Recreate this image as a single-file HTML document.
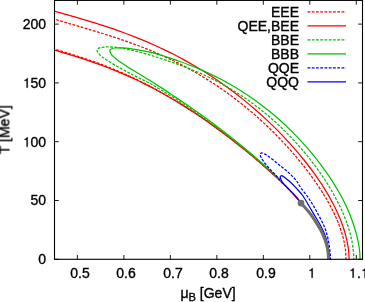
<!DOCTYPE html>
<html><head><meta charset="utf-8"><title>plot</title>
<style>
html,body{margin:0;padding:0;background:#fff}
body{width:365px;height:302px;position:relative;overflow:hidden;font-family:"Liberation Sans",sans-serif;color:#000}
.t{-webkit-text-stroke:0.35px #000;will-change:transform;position:absolute;white-space:nowrap;line-height:1;font-family:"Liberation Sans",sans-serif;color:#000}
</style></head><body>
<svg width="365" height="302" viewBox="0 0 365 302" style="position:absolute;left:0;top:0">
<defs><clipPath id="c"><rect x="54.50" y="0.00" width="308.00" height="259.30"/></clipPath></defs>
<g clip-path="url(#c)">
<path d="M44.00,15.90 C45.67,16.42 50.67,18.00 54.00,19.02 C57.33,20.04 60.67,21.03 64.00,22.02 C67.33,23.02 70.67,23.99 74.00,24.97 C77.33,25.95 80.67,26.93 84.00,27.91 C87.33,28.90 90.67,29.88 94.00,30.89 C97.33,31.90 100.67,32.91 104.00,33.95 C107.33,35.00 110.67,36.05 114.00,37.14 C117.33,38.24 120.67,39.35 124.00,40.50 C127.33,41.66 130.67,42.84 134.00,44.07 C137.33,45.29 140.67,46.56 144.00,47.87 C147.33,49.19 150.67,50.54 154.00,51.95 C157.33,53.36 160.67,54.82 164.00,56.34 C167.33,57.86 170.67,59.42 174.00,61.06 C177.33,62.69 180.67,64.38 184.00,66.14 C187.33,67.90 190.67,69.72 194.00,71.62 C197.33,73.51 200.67,75.47 204.00,77.51 C207.33,79.54 210.67,81.65 214.00,83.84 C217.33,86.03 220.67,88.29 224.00,90.64 C227.33,92.99 230.67,95.42 234.00,97.94 C237.33,100.46 240.67,103.06 244.00,105.76 C247.33,108.46 250.67,111.25 254.00,114.14 C257.33,117.04 260.67,120.03 264.00,123.13 C267.33,126.23 270.67,129.43 274.00,132.76 C277.33,136.10 280.67,139.53 284.00,143.12 C287.33,146.71 290.67,150.41 294.00,154.29 C297.33,158.18 300.67,162.18 304.00,166.44 C307.33,170.69 310.67,175.06 314.00,179.82 C317.33,184.57 321.52,191.04 324.00,194.96 C326.48,198.87 327.36,200.58 328.87,203.30 C330.38,206.02 331.75,208.63 333.07,211.30 C334.38,213.97 335.62,216.63 336.76,219.30 C337.90,221.97 338.96,224.63 339.92,227.30 C340.87,229.97 341.75,232.63 342.50,235.30 C343.24,237.97 343.89,240.63 344.41,243.30 C344.92,245.97 345.33,248.63 345.60,251.30 C345.86,253.97 345.94,257.80 346.01,259.30 C346.07,260.80 346.01,260.13 346.01,260.30" fill="none" stroke="#ff0000" stroke-width="1.25" stroke-dasharray="2.8 1.45" />
<path d="M44.00,46.21 C45.67,46.69 50.67,48.10 54.00,49.07 C57.33,50.03 60.67,51.01 64.00,52.01 C67.33,53.01 70.67,54.02 74.00,55.06 C77.33,56.10 80.67,57.17 84.00,58.27 C87.33,59.37 90.67,60.50 94.00,61.68 C97.33,62.87 100.67,64.09 104.00,65.37 C107.33,66.65 110.67,67.99 114.00,69.36 C117.33,70.74 120.67,72.15 124.00,73.62 C127.33,75.09 130.67,76.61 134.00,78.19 C137.33,79.77 140.67,81.40 144.00,83.08 C147.33,84.76 150.67,86.50 154.00,88.30 C157.33,90.09 160.67,91.95 164.00,93.84 C167.33,95.74 170.67,97.70 174.00,99.69 C177.33,101.68 180.67,103.72 184.00,105.81 C187.33,107.90 190.67,110.05 194.00,112.25 C197.33,114.45 200.67,116.70 204.00,119.01 C207.33,121.31 210.67,123.66 214.00,126.07 C217.33,128.47 220.67,130.93 224.00,133.43 C227.33,135.94 230.67,138.49 234.00,141.09 C237.33,143.70 240.67,146.35 244.00,149.05 C247.33,151.76 250.67,154.51 254.00,157.32 C257.33,160.13 260.67,162.99 264.00,165.92 C267.33,168.85 270.67,171.83 274.00,174.91 C277.33,177.98 279.50,179.83 284.00,184.38 C288.50,188.92 298.17,199.21 301.00,202.18" fill="none" stroke="#ff0000" stroke-width="1.25" stroke-dasharray="2.8 1.45" />
<path d="M44.00,8.36 C45.67,8.82 50.67,10.19 54.00,11.11 C57.33,12.03 60.67,12.95 64.00,13.88 C67.33,14.81 70.67,15.74 74.00,16.70 C77.33,17.66 80.67,18.62 84.00,19.61 C87.33,20.60 90.67,21.61 94.00,22.64 C97.33,23.68 100.67,24.74 104.00,25.83 C107.33,26.92 110.67,28.04 114.00,29.19 C117.33,30.35 120.67,31.53 124.00,32.76 C127.33,33.99 130.67,35.25 134.00,36.56 C137.33,37.87 140.67,39.22 144.00,40.62 C147.33,42.02 150.67,43.46 154.00,44.95 C157.33,46.45 160.67,47.99 164.00,49.59 C167.33,51.19 170.67,52.84 174.00,54.55 C177.33,56.27 180.67,58.03 184.00,59.86 C187.33,61.69 190.67,63.58 194.00,65.53 C197.33,67.49 200.67,69.50 204.00,71.59 C207.33,73.67 210.67,75.83 214.00,78.05 C217.33,80.28 220.67,82.57 224.00,84.95 C227.33,87.32 230.67,89.77 234.00,92.30 C237.33,94.83 240.67,97.43 244.00,100.13 C247.33,102.83 250.67,105.61 254.00,108.48 C257.33,111.36 260.67,114.32 264.00,117.39 C267.33,120.46 270.67,123.63 274.00,126.91 C277.33,130.20 280.67,133.58 284.00,137.11 C287.33,140.64 290.67,144.27 294.00,148.09 C297.33,151.90 300.67,155.83 304.00,160.00 C307.33,164.17 310.67,168.45 314.00,173.10 C317.33,177.74 320.67,182.47 324.00,187.86 C327.33,193.25 331.29,200.18 334.00,205.42 C336.71,210.66 338.74,215.65 340.28,219.30 C341.81,222.95 342.31,224.63 343.21,227.30 C344.10,229.97 344.95,232.63 345.66,235.30 C346.38,237.97 346.99,240.63 347.49,243.30 C347.99,245.97 348.40,248.63 348.67,251.30 C348.93,253.97 349.02,257.80 349.08,259.30 C349.15,260.80 349.08,260.13 349.08,260.30" fill="none" stroke="#ff0000" stroke-width="1.25" />
<path d="M44.00,47.11 C45.67,47.59 50.67,49.00 54.00,49.97 C57.33,50.93 60.67,51.91 64.00,52.91 C67.33,53.91 70.67,54.92 74.00,55.96 C77.33,57.00 80.67,58.07 84.00,59.17 C87.33,60.27 90.67,61.41 94.00,62.58 C97.33,63.76 100.67,64.98 104.00,66.24 C107.33,67.50 110.67,68.80 114.00,70.14 C117.33,71.49 120.67,72.87 124.00,74.32 C127.33,75.76 130.67,77.25 134.00,78.80 C137.33,80.35 140.67,81.95 144.00,83.60 C147.33,85.26 150.67,86.97 154.00,88.73 C157.33,90.50 160.67,92.32 164.00,94.20 C167.33,96.07 170.67,98.00 174.00,99.99 C177.33,101.97 180.67,104.02 184.00,106.11 C187.33,108.20 190.67,110.35 194.00,112.55 C197.33,114.75 200.67,117.00 204.00,119.31 C207.33,121.61 210.67,123.96 214.00,126.37 C217.33,128.77 220.67,131.23 224.00,133.73 C227.33,136.24 230.67,138.79 234.00,141.39 C237.33,144.00 240.67,146.65 244.00,149.35 C247.33,152.06 250.67,154.81 254.00,157.62 C257.33,160.43 260.67,163.29 264.00,166.22 C267.33,169.15 270.67,172.13 274.00,175.21 C277.33,178.28 279.50,180.13 284.00,184.68 C288.50,189.22 298.17,199.51 301.00,202.48" fill="none" stroke="#ff0000" stroke-width="1.25" />
<path d="M353.77,260.30 C353.77,260.13 353.83,260.80 353.77,259.30 C353.70,257.80 353.64,253.97 353.39,251.30 C353.15,248.63 352.79,245.97 352.32,243.30 C351.86,240.63 351.29,237.97 350.62,235.30 C349.95,232.63 349.16,229.97 348.31,227.30 C347.46,224.63 346.89,222.77 345.51,219.30 C344.12,215.83 342.58,211.71 340.00,206.50 C337.42,201.29 333.33,193.66 330.00,188.03 C326.67,182.39 323.33,177.47 320.00,172.67 C316.67,167.87 313.33,163.47 310.00,159.22 C306.67,154.97 303.33,151.00 300.00,147.18 C296.67,143.35 293.33,139.74 290.00,136.27 C286.67,132.80 283.33,129.52 280.00,126.36 C276.67,123.20 273.33,120.20 270.00,117.32 C266.67,114.43 263.33,111.70 260.00,109.07 C256.67,106.45 253.33,103.95 250.00,101.56 C246.67,99.17 243.33,96.90 240.00,94.73 C236.67,92.56 233.33,90.50 230.00,88.53 C226.67,86.56 223.33,84.69 220.00,82.90 C216.67,81.11 213.33,79.42 210.00,77.80 C206.67,76.18 203.33,74.65 200.00,73.17 C196.67,71.70 193.33,70.31 190.00,68.97 C186.67,67.63 183.33,66.36 180.00,65.13 C176.67,63.90 173.33,62.73 170.00,61.59 C166.67,60.44 163.33,59.35 160.00,58.27 C156.67,57.20 154.17,56.33 150.00,55.12 C145.83,53.91 139.67,52.15 135.00,51.00 C130.33,49.85 125.67,48.85 122.00,48.20 C118.33,47.55 115.83,47.30 113.00,47.10 C110.17,46.90 107.17,46.92 105.00,47.00 C102.83,47.08 101.23,47.27 100.00,47.60 C98.77,47.93 98.10,48.52 97.60,49.00 C97.10,49.48 96.88,49.80 97.00,50.50 C97.12,51.20 97.47,52.15 98.30,53.20 C99.13,54.25 100.62,55.68 102.00,56.80 C103.38,57.92 104.60,58.60 106.60,59.90 C108.60,61.20 111.23,62.95 114.00,64.60 C116.77,66.25 120.37,68.23 123.20,69.80 C126.03,71.37 128.25,72.57 131.00,74.00 C133.75,75.43 136.53,76.82 139.70,78.40 C142.87,79.98 146.28,81.46 150.00,83.49 C153.72,85.52 157.83,88.06 162.00,90.58 C166.17,93.09 170.33,95.63 175.00,98.59 C179.67,101.55 185.00,104.98 190.00,108.34 C195.00,111.69 200.00,115.15 205.00,118.70 C210.00,122.25 215.00,125.89 220.00,129.65 C225.00,133.41 230.00,137.31 235.00,141.28 C240.00,145.25 245.00,149.29 250.00,153.48 C255.00,157.66 260.00,161.96 265.00,166.40 C270.00,170.84 277.50,177.84 280.00,180.12" fill="none" stroke="#00c000" stroke-width="1.25" stroke-dasharray="2.8 1.45" />
<path d="M360.09,260.30 C360.09,260.13 360.16,260.80 360.09,259.30 C360.02,257.80 359.93,253.97 359.67,251.30 C359.40,248.63 358.99,245.97 358.50,243.30 C358.01,240.63 357.41,237.97 356.73,235.30 C356.04,232.63 355.23,229.97 354.38,227.30 C353.54,224.63 352.64,221.97 351.66,219.30 C350.67,216.63 349.62,213.97 348.48,211.30 C347.34,208.63 346.23,206.18 344.82,203.30 C343.41,200.42 342.47,198.32 340.00,194.04 C337.53,189.76 333.33,182.69 330.00,177.61 C326.67,172.53 323.33,167.96 320.00,163.54 C316.67,159.11 313.33,155.02 310.00,151.06 C306.67,147.11 303.33,143.40 300.00,139.82 C296.67,136.24 293.33,132.85 290.00,129.59 C286.67,126.33 283.33,123.24 280.00,120.26 C276.67,117.27 273.33,114.44 270.00,111.71 C266.67,108.98 263.33,106.38 260.00,103.88 C256.67,101.39 253.33,99.01 250.00,96.72 C246.67,94.44 243.33,92.27 240.00,90.18 C236.67,88.09 233.33,86.11 230.00,84.21 C226.67,82.31 223.33,80.50 220.00,78.77 C216.67,77.04 213.33,75.39 210.00,73.82 C206.67,72.25 203.33,70.75 200.00,69.32 C196.67,67.89 193.33,66.53 190.00,65.23 C186.67,63.93 183.33,62.69 180.00,61.50 C176.67,60.31 173.33,59.19 170.00,58.09 C166.67,57.00 163.33,55.96 160.00,54.95 C156.67,53.94 154.17,52.96 150.00,52.02 C145.83,51.08 139.50,49.99 135.00,49.30 C130.50,48.61 126.33,48.12 123.00,47.90 C119.67,47.68 116.97,47.82 115.00,48.00 C113.03,48.18 112.05,48.52 111.20,49.00 C110.35,49.48 109.83,49.92 109.90,50.90 C109.97,51.88 110.40,53.42 111.60,54.90 C112.80,56.38 115.03,58.18 117.10,59.80 C119.17,61.42 121.60,63.02 124.00,64.60 C126.40,66.18 128.48,67.45 131.50,69.30 C134.52,71.15 139.02,73.83 142.10,75.70 C145.18,77.57 146.68,78.42 150.00,80.49 C153.32,82.56 157.83,85.39 162.00,88.13 C166.17,90.86 170.33,93.75 175.00,96.89 C179.67,100.02 185.00,103.50 190.00,106.94 C195.00,110.37 200.00,113.88 205.00,117.50 C210.00,121.12 215.00,124.84 220.00,128.65 C225.00,132.46 230.00,136.37 235.00,140.38 C240.00,144.38 245.00,148.45 250.00,152.68 C255.00,156.90 260.00,161.23 265.00,165.70 C270.00,170.18 277.50,177.22 280.00,179.52" fill="none" stroke="#00c000" stroke-width="1.25" />
<path d="M330.60,260.30 C330.55,259.42 330.52,257.38 330.30,255.00 C330.08,252.62 329.80,249.17 329.30,246.00 C328.80,242.83 328.17,239.33 327.30,236.00 C326.43,232.67 325.57,229.50 324.10,226.00 C322.63,222.50 320.35,218.50 318.50,215.00 C316.65,211.50 314.83,208.08 313.00,205.00 C311.17,201.92 309.50,199.33 307.50,196.50 C305.50,193.67 302.92,190.72 301.00,188.00 C299.08,185.28 297.67,182.38 296.00,180.20 C294.33,178.02 292.67,176.55 291.00,174.90 C289.33,173.25 287.77,171.80 286.00,170.30 C284.23,168.80 282.23,167.38 280.40,165.90 C278.57,164.42 277.07,163.03 275.00,161.40 C272.93,159.77 269.75,157.35 268.00,156.10 C266.25,154.85 265.48,154.42 264.50,153.90 C263.52,153.38 262.75,153.07 262.10,153.00 C261.45,152.93 260.92,153.17 260.60,153.50 C260.28,153.83 260.10,154.32 260.20,155.00 C260.30,155.68 260.62,156.50 261.20,157.60 C261.78,158.70 262.63,160.12 263.70,161.60 C264.77,163.08 266.28,164.93 267.60,166.50 C268.92,168.07 270.27,169.58 271.60,171.00 C272.93,172.42 274.37,173.65 275.60,175.00 C276.83,176.35 277.77,177.66 279.00,179.07 C280.23,180.49 282.33,182.77 283.00,183.50" fill="none" stroke="#0000ff" stroke-width="1.25" stroke-dasharray="2.8 1.45" />
<path d="M329.70,260.30 C329.65,259.42 329.68,257.38 329.40,255.00 C329.12,252.62 328.68,249.17 328.00,246.00 C327.32,242.83 326.50,239.33 325.30,236.00 C324.10,232.67 322.53,229.33 320.80,226.00 C319.07,222.67 316.87,219.33 314.90,216.00 C312.93,212.67 310.98,209.33 309.00,206.00 C307.02,202.67 305.03,198.88 303.00,196.00 C300.97,193.12 298.97,191.07 296.80,188.70 C294.63,186.33 291.97,183.62 290.00,181.80 C288.03,179.98 286.28,178.78 285.00,177.80 C283.72,176.82 283.00,176.22 282.30,175.90 C281.60,175.58 281.15,175.67 280.80,175.90 C280.45,176.13 280.18,176.73 280.20,177.30 C280.22,177.87 280.43,178.32 280.90,179.30 C281.37,180.28 281.55,181.45 283.00,183.20 C284.45,184.96 287.60,187.81 289.60,189.85 C291.60,191.89 293.27,193.46 295.00,195.47 C296.73,197.48 299.17,200.83 300.00,201.90" fill="none" stroke="#0000ff" stroke-width="1.25" />
<path d="M301.00,203.10 C302.67,205.05 307.93,210.67 311.00,214.77 C314.07,218.87 317.35,224.21 319.41,227.70 C321.47,231.19 322.22,233.03 323.36,235.70 C324.50,238.37 325.47,241.03 326.24,243.70 C327.02,246.37 327.61,249.03 328.00,251.70 C328.39,254.37 328.49,258.20 328.59,259.70 C328.69,261.20 328.59,260.53 328.59,260.70" fill="none" stroke="#6e6e6e" stroke-width="3.0" stroke-linecap="butt"/>
<circle cx="301.00" cy="203.10" r="3.40" fill="#6e6e6e"/>
</g>
<rect x="54.50" y="0.40" width="308.00" height="258.90" fill="none" stroke="#000" stroke-width="1.1"/>
<path d="M77.40,259.30 v-4.30 M77.40,0.40 v4.30" stroke="#000" stroke-width="0.9" fill="none"/>
<path d="M123.88,259.30 v-4.30 M123.88,0.40 v4.30" stroke="#000" stroke-width="0.9" fill="none"/>
<path d="M170.36,259.30 v-4.30 M170.36,0.40 v4.30" stroke="#000" stroke-width="0.9" fill="none"/>
<path d="M216.84,259.30 v-4.30 M216.84,0.40 v4.30" stroke="#000" stroke-width="0.9" fill="none"/>
<path d="M263.32,259.30 v-4.30 M263.32,0.40 v4.30" stroke="#000" stroke-width="0.9" fill="none"/>
<path d="M309.80,259.30 v-4.30 M309.80,0.40 v4.30" stroke="#000" stroke-width="0.9" fill="none"/>
<path d="M356.28,259.30 v-4.30 M356.28,0.40 v4.30" stroke="#000" stroke-width="0.9" fill="none"/>
<path d="M54.50,259.30 h4.30 M362.50,259.30 h-4.30" stroke="#000" stroke-width="0.9" fill="none"/>
<path d="M54.50,200.50 h4.30 M362.50,200.50 h-4.30" stroke="#000" stroke-width="0.9" fill="none"/>
<path d="M54.50,141.70 h4.30 M362.50,141.70 h-4.30" stroke="#000" stroke-width="0.9" fill="none"/>
<path d="M54.50,82.90 h4.30 M362.50,82.90 h-4.30" stroke="#000" stroke-width="0.9" fill="none"/>
<path d="M54.50,24.10 h4.30 M362.50,24.10 h-4.30" stroke="#000" stroke-width="0.9" fill="none"/>
<path d="M307.50,11.80 H346.00" stroke="#ff0000" stroke-width="1.25" fill="none" stroke-dasharray="2.8 1.45"/>
<path d="M307.50,25.80 H346.00" stroke="#ff0000" stroke-width="1.25" fill="none"/>
<path d="M307.50,39.80 H346.00" stroke="#00c000" stroke-width="1.25" fill="none" stroke-dasharray="2.8 1.45"/>
<path d="M307.50,53.80 H346.00" stroke="#00c000" stroke-width="1.25" fill="none"/>
<path d="M307.50,67.80 H346.00" stroke="#0000ff" stroke-width="1.25" fill="none" stroke-dasharray="2.8 1.45"/>
<path d="M307.50,81.80 H346.00" stroke="#0000ff" stroke-width="1.25" fill="none"/>
</svg>
<div class="t" style="left:79.90px;top:265.63px;width:100px;margin-left:-50px;text-align:center;font-size:14px">0.5</div>
<div class="t" style="left:126.38px;top:265.63px;width:100px;margin-left:-50px;text-align:center;font-size:14px">0.6</div>
<div class="t" style="left:172.86px;top:265.63px;width:100px;margin-left:-50px;text-align:center;font-size:14px">0.7</div>
<div class="t" style="left:219.34px;top:265.63px;width:100px;margin-left:-50px;text-align:center;font-size:14px">0.8</div>
<div class="t" style="left:265.82px;top:265.63px;width:100px;margin-left:-50px;text-align:center;font-size:14px">0.9</div>
<div class="t" style="left:312.30px;top:265.63px;width:100px;margin-left:-50px;text-align:center;font-size:14px"><svg viewBox="0 -1440 1139 1440" style="width:0.5562em;height:0.7031em;vertical-align:baseline;overflow:visible"><path d="M696,0 L696,-1409 L572,-1409 C545,-1290 430,-1175 215,-1150 L215,-1020 L515,-1020 L515,0 Z" fill="#000" stroke="#000" stroke-width="30"/></svg></div>
<div class="t" style="left:358.78px;top:265.63px;width:100px;margin-left:-50px;text-align:center;font-size:14px"><svg viewBox="0 -1440 1139 1440" style="width:0.5562em;height:0.7031em;vertical-align:baseline;overflow:visible"><path d="M696,0 L696,-1409 L572,-1409 C545,-1290 430,-1175 215,-1150 L215,-1020 L515,-1020 L515,0 Z" fill="#000" stroke="#000" stroke-width="30"/></svg>.<svg viewBox="0 -1440 1139 1440" style="width:0.5562em;height:0.7031em;vertical-align:baseline;overflow:visible"><path d="M696,0 L696,-1409 L572,-1409 C545,-1290 430,-1175 215,-1150 L215,-1020 L515,-1020 L515,0 Z" fill="#000" stroke="#000" stroke-width="30"/></svg></div>
<div class="t" style="left:46.30px;top:252.13px;width:120px;margin-left:-120px;text-align:right;font-size:14px">0</div>
<div class="t" style="left:46.30px;top:193.33px;width:120px;margin-left:-120px;text-align:right;font-size:14px">50</div>
<div class="t" style="left:46.30px;top:134.53px;width:120px;margin-left:-120px;text-align:right;font-size:14px"><svg viewBox="0 -1440 1139 1440" style="width:0.5562em;height:0.7031em;vertical-align:baseline;overflow:visible"><path d="M696,0 L696,-1409 L572,-1409 C545,-1290 430,-1175 215,-1150 L215,-1020 L515,-1020 L515,0 Z" fill="#000" stroke="#000" stroke-width="30"/></svg>00</div>
<div class="t" style="left:46.30px;top:75.73px;width:120px;margin-left:-120px;text-align:right;font-size:14px"><svg viewBox="0 -1440 1139 1440" style="width:0.5562em;height:0.7031em;vertical-align:baseline;overflow:visible"><path d="M696,0 L696,-1409 L572,-1409 C545,-1290 430,-1175 215,-1150 L215,-1020 L515,-1020 L515,0 Z" fill="#000" stroke="#000" stroke-width="30"/></svg>50</div>
<div class="t" style="left:46.30px;top:16.93px;width:120px;margin-left:-120px;text-align:right;font-size:14px">200</div>
<div class="t" style="left:299.20px;top:4.63px;width:120px;margin-left:-120px;text-align:right;font-size:14px">EEE</div>
<div class="t" style="left:299.20px;top:18.63px;width:120px;margin-left:-120px;text-align:right;font-size:14px">QEE,BEE</div>
<div class="t" style="left:299.20px;top:32.63px;width:120px;margin-left:-120px;text-align:right;font-size:14px">BBE</div>
<div class="t" style="left:299.20px;top:46.63px;width:120px;margin-left:-120px;text-align:right;font-size:14px">BBB</div>
<div class="t" style="left:299.20px;top:60.63px;width:120px;margin-left:-120px;text-align:right;font-size:14px">QQE</div>
<div class="t" style="left:299.20px;top:74.63px;width:120px;margin-left:-120px;text-align:right;font-size:14px">QQQ</div>
<div class="t" style="left:108px;top:286.33px;width:200px;text-align:center;font-size:14px">&#956;<span style="font-size:11.2px;position:relative;top:2.8px">B</span> [GeV]</div>
<div class="t" style="left:10.20px;top:117.03px;width:100px;margin-left:-50px;text-align:center;font-size:14px;transform-origin:50% 12.67px;transform:rotate(-90deg)">T [MeV]</div>
</body></html>
